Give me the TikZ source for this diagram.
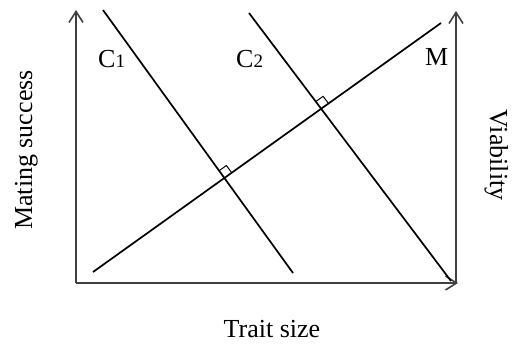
\documentclass[tikz,border=0pt]{standalone}
\usepackage{fontspec}
\setmainfont{Liberation Serif}
\usetikzlibrary{arrows.meta,calc}
\begin{document}
\begin{tikzpicture}[x=1pt,y=-1pt,
  axis/.style={draw=black!75,line width=1.2pt,-{Straight Barb[length=11pt,width=14pt,line width=1.6pt]}},
  trend/.style={draw=black,line width=1.7pt},
  rmark/.style={draw=black,line width=1pt},
  lbl/.style={inner sep=0pt,font=\fontsize{26}{30}\selectfont}]
\useasboundingbox (0,0) rectangle (514,343);
% axes
\coordinate (O) at (76,283);
\coordinate (Ytop) at (76,10);
\coordinate (Xend) at (458,283);
\coordinate (R0) at (456,283);
\coordinate (Rtop) at (456,11);
\draw[axis] (O) -- (Ytop);
\draw[axis] (O) -- (Xend);
\draw[axis] (R0) -- (Rtop);
% lines
\coordinate (C1a) at (103,10);
\coordinate (C1b) at (293,273);
\coordinate (C2a) at (249,13);
\coordinate (C2b) at (451,281);
\coordinate (Ma) at (93,272);
\coordinate (Mb) at (441,23);
\draw[trend] (C1a) -- (C1b);
\draw[trend] (C2a) -- (C2b);
\draw[trend] (Ma) -- (Mb);
% right-angle marks
\coordinate (P1) at (intersection of C1a--C1b and Ma--Mb);
\coordinate (P2) at (intersection of C2a--C2b and Ma--Mb);
\coordinate (P1m) at ($(P1)!9pt!(Mb)$);
\coordinate (P1c) at ($(P1)!9pt!(C1a)$);
\coordinate (P2m) at ($(P2)!9pt!(Mb)$);
\coordinate (P2c) at ($(P2)!9pt!(C2a)$);
\draw[rmark] (P1m) -- ($(P1m)+(P1c)-(P1)$) -- (P1c);
\draw[rmark] (P2m) -- ($(P2m)+(P2c)-(P2)$) -- (P2c);
% labels
\node[lbl,anchor=base west] (c1) at (98,67) {C{\fontsize{19}{22}\selectfont 1}};
\node[lbl,anchor=base west] (c2) at (236,67) {C{\fontsize{19}{22}\selectfont 2}};
\node[lbl,anchor=base west] (m) at (425,65) {M};
\node[lbl,anchor=base] (xl) at (272,337) {Trait size};
\node[lbl,anchor=base,rotate=90] (yl) at (32,150) {Mating success};
\node[lbl,anchor=base,rotate=-90] (vl) at (490,155) {Viability};
\end{tikzpicture}
\end{document}
